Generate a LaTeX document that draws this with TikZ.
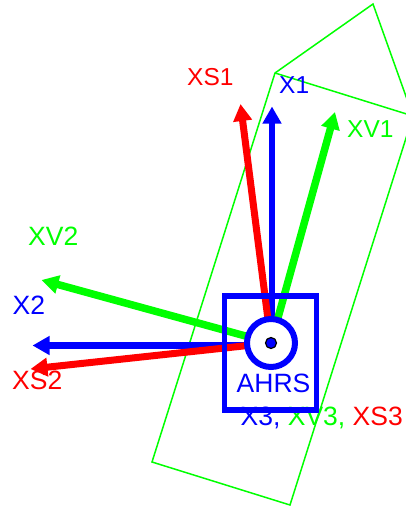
\documentclass[tikz,border=0pt]{standalone}
\usepackage{fontspec}
\setmainfont{Liberation Sans}
\usetikzlibrary{positioning,calc,arrows.meta}
\tikzset{
  lbl/.style={anchor=base west,inner sep=0pt,font=\fontsize{26.5}{26}\selectfont},
  lblsmall/.style={lbl,font=\fontsize{24.5}{26}\selectfont},
  axis/.style={-{Triangle[length=17pt,width=18pt]}},
  hull/.style={draw=green,line width=1.5pt,line join=miter},
}
\begin{document}
\begin{tikzpicture}[x=1pt,y=-1pt]
  \useasboundingbox (0,0) rectangle (406,506);
  \clip (0,0) rectangle (406,506);
  % vehicle outline
  \draw[hull] (152,462) -- (275,73) -- (373,4) -- (413,116) -- (290,505) -- cycle;
  \draw[hull] (275,73) -- (413,116);
  % axes
  \coordinate (ctr) at (271,343);
  \coordinate (org) at (272,345.5);
  \foreach \nm/\from/\col/\lw/\tx/\ty in {x1/org/blue/6.5/272/106.5,x2/org/blue/6.5/32.5/345.5,xv1/ctr/green/7.5/335/112,xv2/ctr/green/7.5/41.5/280,xs1/ctr/red/7/240.5/104,xs2/ctr/red/7/30.5/369}{%
    \coordinate (\nm) at (\tx,\ty);
    \draw[axis,line width=\lw pt,draw=\col,fill=\col] (\from) -- (\nm);
  }
  % labels
  \node[lblsmall,text=red] (lxs1) at (187,85) {XS1};
  \node[lblsmall,text=blue] (lx1) at (279,93) {X1};
  \node[lblsmall,text=green] (lxv1) at (347,137.5) {XV1};
  \node[lbl,text=green] (lxv2) at (28,245) {XV2};
  \node[lbl,text=blue] (lx2) at (12.5,314) {X2};
  \node[lbl,text=red] (lxs2) at (12,389) {XS2};
  \node[lbl,text=blue] (lahrs) at (236.5,392) {AHRS};
  \node[lbl] (lx3) at (240.5,425) {\textcolor{blue}{X3,} \textcolor{green}{XV3,} \textcolor{red}{XS3}};
  % sensor box
  \node[draw=blue,line width=5.5pt,minimum width=92pt,minimum height=114pt,inner sep=0pt] (ahrs) at (270.3,353) {};
  \node[circle,draw=blue,fill=white,line width=6pt,minimum size=48pt,inner sep=0pt] (ring) at (ctr) {};
  \node[circle,draw=black,fill=blue,line width=1.2pt,minimum size=11pt,inner sep=0pt] (dot) at (ctr) {};
\end{tikzpicture}
\end{document}
